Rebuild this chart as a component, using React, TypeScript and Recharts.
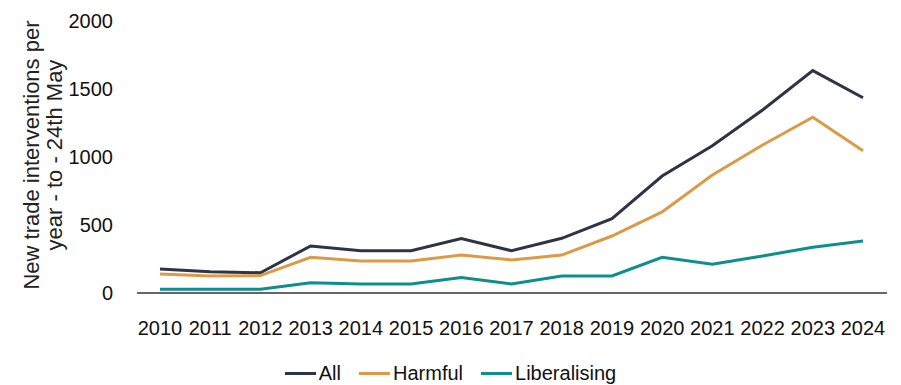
import {
  CartesianGrid,
  Label,
  Legend,
  Line,
  LineChart,
  XAxis,
  YAxis,
} from 'recharts'

// Values (new trade interventions per year, to 24th May)
const years = [
  '2010', '2011', '2012', '2013', '2014', '2015', '2016', '2017',
  '2018', '2019', '2020', '2021', '2022', '2023', '2024',
]
const allValues = [176, 157, 149, 346, 311, 311, 400, 311, 402, 546, 860, 1083, 1346, 1635, 1436]
const harmfulValues = [140, 125, 128, 262, 235, 235, 279, 243, 279, 419, 596, 868, 1088, 1292, 1046]
const liberalisingValues = [27, 27, 27, 76, 66, 66, 113, 66, 125, 125, 262, 211, 272, 336, 382]
const yTicks = [0, 500, 1000, 1500, 2000]

const COLORS = {
  all: '#2d3446',
  harmful: '#dd9a45',
  liberalising: '#0e8e8c',
}

const FONT = 'Liberation Sans, Arial, sans-serif'

const data = years.map((year, i) => ({
  year,
  All: allValues[i],
  Harmful: harmfulValues[i],
  Liberalising: liberalisingValues[i],
}))

/*
 * Two-line rotated axis title. Centered on the y-axis box that Recharts hands
 * to the label, so it follows the plot if the margins move.
 */
function YTitle(props: any) {
  const vb = props.viewBox ?? { x: 0, y: 0, width: 0, height: 0 }
  const cy = vb.y + vb.height / 2 - 2
  const cx = 43
  return (
    <g transform={`translate(${cx}, ${cy}) rotate(-90)`}>
      <text
        textAnchor="middle"
        fontFamily={FONT}
        fontSize={22}
        fill="#222"
      >
        <tspan x={0} y={-4}>New trade interventions per</tspan>
        <tspan x={0} y={19}>year - to - 24th May</tspan>
      </text>
    </g>
  )
}

function LegendRow(props: any) {
  const items = props.payload ?? []
  return (
    <div
      style={{
        display: 'flex',
        justifyContent: 'center',
        gap: 18,
        fontFamily: FONT,
        fontSize: 20,
        color: '#111',
      }}
    >
      {items.map((item: any) => (
        <div key={item.value} style={{ display: 'flex', alignItems: 'center', gap: 3 }}>
          <span
            style={{ display: 'inline-block', width: 31, height: 3, background: item.color }}
          />
          <span>{item.value}</span>
        </div>
      ))}
    </div>
  )
}

export default function App() {
  return (
    <div style={{ position: 'absolute', left: 0, top: 0, width: 901, height: 385, background: '#fff' }}>
      <LineChart
        width={901}
        height={385}
        data={data}
        margin={{ top: 21, right: 14, left: 0, bottom: 0 }}
      >
        <CartesianGrid horizontal={false} vertical={false} />
        <XAxis
          dataKey="year"
          height={69}
          padding={{ left: 23, right: 24 }}
          axisLine={{ stroke: '#333', strokeWidth: 1.5 }}
          tickLine={false}
          tickSize={0}
          tickMargin={28}
          interval={0}
          tick={{ fill: '#111', fontSize: 20, fontFamily: FONT }}
        />
        <YAxis
          width={137}
          domain={[0, 2000]}
          ticks={yTicks}
          axisLine={false}
          tickLine={false}
          tickSize={0}
          tickMargin={24}
          tick={{ fill: '#111', fontSize: 20, fontFamily: FONT }}
        >
          <Label content={YTitle} />
        </YAxis>
        <Legend
          verticalAlign="bottom"
          content={LegendRow}
          wrapperStyle={{ left: 0, width: 901, bottom: 0 }}
        />
        <Line
          type="linear"
          dataKey="All"
          stroke={COLORS.all}
          strokeWidth={3}
          dot={false}
          isAnimationActive={false}
        />
        <Line
          type="linear"
          dataKey="Harmful"
          stroke={COLORS.harmful}
          strokeWidth={3}
          dot={false}
          isAnimationActive={false}
        />
        <Line
          type="linear"
          dataKey="Liberalising"
          stroke={COLORS.liberalising}
          strokeWidth={3}
          dot={false}
          isAnimationActive={false}
        />
      </LineChart>
    </div>
  )
}
